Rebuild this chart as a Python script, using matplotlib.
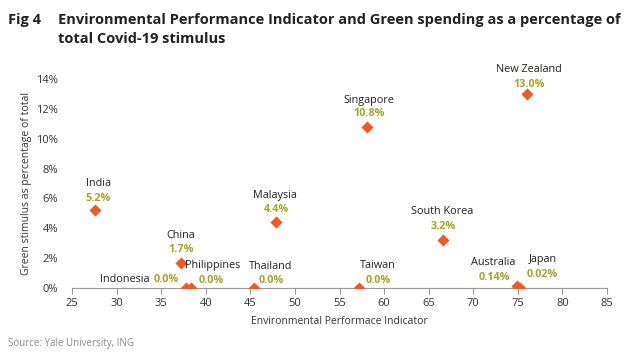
import matplotlib.pyplot as plt
from matplotlib.ticker import FuncFormatter

plt.rcParams['font.family'] = ['Open Sans', 'DejaVu Sans']

countries = ['India', 'China', 'Indonesia', 'Philippines', 'Thailand', 'Malaysia',
             'Singapore', 'New Zealand', 'South Korea', 'Taiwan', 'Australia', 'Japan']
epi = [27.6, 37.2, 37.8, 38.3, 45.4, 47.9, 58.1, 76.0, 66.6, 57.2, 74.9, 75.2]
green = [5.2, 1.7, 0.0, 0.0, 0.0, 4.4, 10.8, 13.0, 3.2, 0.0, 0.14, 0.02]
value_labels = ['5.2%', '1.7%', '0.0%', '0.0%', '0.0%', '4.4%',
                '10.8%', '13.0%', '3.2%', '0.0%', '0.14%', '0.02%']

# label offsets in pixels: (name dx, name dy, value dx, value dy)
offsets = {
    'India': (3, 27, 3, 12),
    'China': (0, 27, 0, 13),
    'Indonesia': (-61, 8, -20, 8),
    'Philippines': (22, 22, 21, 7),
    'Thailand': (17, 21, 17, 7),
    'Malaysia': (-1, 27, 0, 13),
    'Singapore': (2, 26, 2, 13),
    'New Zealand': (2, 25, 2, 10),
    'South Korea': (-1, 29, 0, 14),
    'Taiwan': (19, 22, 19, 7),
    'Australia': (-24, 23, -23, 8),
    'Japan': (23, 28, 23, 13),
}

orange = '#EE5A24'
olive = '#A3A52E'

fig = plt.figure(figsize=(6.37, 3.63), dpi=100)
ax = fig.add_axes([0.113, 0.207, 0.84, 0.575])

ax.scatter(epi, green, marker='D', s=38, color=orange, zorder=3, linewidths=0)

for c, x, y, v in zip(countries, epi, green, value_labels):
    ndx, ndy, vdx, vdy = offsets[c]
    ax.annotate(c, (x, y), xytext=(ndx, ndy), textcoords='offset pixels',
                ha='center', va='center', fontsize=7.8, color='#222222')
    ax.annotate(v, (x, y), xytext=(vdx, vdy), textcoords='offset pixels',
                ha='center', va='center', fontsize=7.8, color=olive, fontweight='bold')

ax.set_xlim(25, 85)
ax.set_ylim(0, 14)
ax.set_xticks(range(25, 90, 5))
ax.set_yticks(range(0, 16, 2))
ax.yaxis.set_major_formatter(FuncFormatter(lambda v, p: f'{v:.0f}%'))

for s in ['top', 'right', 'left']:
    ax.spines[s].set_visible(False)
ax.spines['bottom'].set_color('#999999')
ax.tick_params(axis='x', colors='#999999', labelcolor='#333333', labelsize=8, length=4, direction='out')
ax.tick_params(axis='y', length=0, labelcolor='#333333', labelsize=8, pad=10)

ax.set_xlabel('Environmental Performace Indicator', fontsize=7.5, color='#333333', labelpad=5)
ax.set_ylabel('Green stimulus as percentage of total', fontsize=7.5, color='#333333', labelpad=3)

fig.text(0.013, 0.945, 'Fig 4', fontsize=10.5, fontweight='bold', color='#222222', va='center')
fig.text(0.091, 0.945, 'Environmental Performance Indicator and Green spending as a percentage of',
         fontsize=10.5, fontweight='bold', color='#222222', va='center')
fig.text(0.091, 0.893, 'total Covid-19 stimulus', fontsize=10.5, fontweight='bold',
         color='#222222', va='center')
fig.text(0.012, 0.053, 'Source: Yale University, ING', fontsize=7, color='#8a8a8a', va='center')

fig.savefig('out.png', dpi=100)
